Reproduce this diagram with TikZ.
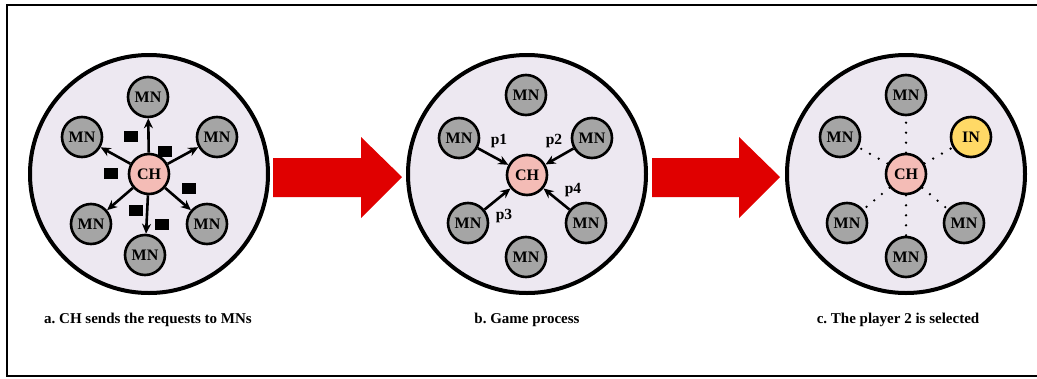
\documentclass[tikz,border=0pt]{standalone}
\usepackage{fontspec}
\setmainfont{Liberation Serif}
\usetikzlibrary{arrows.meta}
\frenchspacing
\definecolor{lav}{HTML}{EDE8F1}
\definecolor{mngray}{HTML}{A5A5A5}
\definecolor{chpink}{HTML}{F4BCB6}
\definecolor{inyellow}{HTML}{FFD966}
\definecolor{bigred}{HTML}{E00000}
\tikzset{
 cluster/.style={circle, draw, line width=4pt, fill=lav, minimum size=238pt, inner sep=0pt},
 mn/.style={circle, draw, line width=2.6pt, fill=mngray, minimum size=40pt, inner sep=0pt, font=\fontsize{16}{16}\selectfont\bfseries},
 ch/.style={mn, fill=chpink},
 innode/.style={mn, fill=inyellow},
 msg/.style={rectangle, fill=black, minimum width=14pt, minimum height=11pt, inner sep=0pt},
 req/.style={line width=2.6pt, -{Stealth[length=10pt,width=9pt]}},
 link/.style={line width=2.6pt, dash pattern=on 0pt off 10pt, line cap=round},
 lbl/.style={font=\fontsize{15.5}{15.5}\selectfont\bfseries, inner sep=0pt},
 caption/.style={font=\fontsize{15}{15}\selectfont\bfseries, inner sep=0pt},
 bigarrow/.style={fill=bigred},
 frame/.style={line width=2pt},
}
\begin{document}
\begin{tikzpicture}[x=1pt,y=-1pt]
\useasboundingbox (0,0) rectangle (1037,378);
% outer frame
\draw[frame] (1040,5) -- (7,5) -- (7,376) -- (1040,376);

% ---------- panel a ----------
\node[cluster] (ca) at (149,174) {};
\node[ch] (chA) at (149,174) {CH};
\node[mn] (a1) at (148,97) {MN};
\node[mn] (a2) at (82,137) {MN};
\node[mn] (a3) at (217,137) {MN};
\node[mn] (a4) at (91,224) {MN};
\node[mn] (a5) at (207,224) {MN};
\node[mn] (a6) at (145,255) {MN};
\foreach \t in {a1,a2,a3,a4,a5,a6} \draw[req] (chA) -- (\t);
\node[msg] (m1) at (131,136) {};
\node[msg] (m2) at (165,151) {};
\node[msg] (m3) at (111,173) {};
\node[msg] (m4) at (189,188) {};
\node[msg] (m5) at (136,210) {};
\node[msg] (m6) at (162,224) {};
\node[caption] (capA) at (148,320) {a. CH sends the requests to MNs};

% big arrow 1
\fill[bigarrow] (273,158) -- (361,158) -- (361,137) -- (402,177) -- (361,218) -- (361,197) -- (273,197) -- cycle;

% ---------- panel b ----------
\node[cluster] (cb) at (527,174) {};
\node[ch] (chB) at (527,175) {CH};
\node[mn] (b1) at (526,95) {MN};
\node[mn] (b2) at (459,138) {MN};
\node[mn] (b3) at (592,138) {MN};
\node[mn] (b4) at (468,223) {MN};
\node[mn] (b5) at (586,223) {MN};
\node[mn] (b6) at (526,257) {MN};
\foreach \s in {b2,b3,b4,b5} \draw[req] (\s) -- (chB);
\node[lbl] (p1) at (499,141) {p1};
\node[lbl] (p2) at (554,141) {p2};
\node[lbl] (p3) at (504,216) {p3};
\node[lbl] (p4) at (573,190) {p4};
\node[caption] (capB) at (527,320) {b. Game process};

% big arrow 2
\fill[bigarrow] (652,158) -- (739,158) -- (739,137) -- (780,177) -- (739,218) -- (739,197) -- (652,197) -- cycle;

% ---------- panel c ----------
\node[cluster] (cc) at (906,174) {};
\node[ch] (chC) at (906,174) {CH};
\node[mn] (c1) at (906,95) {MN};
\node[mn] (c2) at (840,137) {MN};
\node[innode] (c3) at (971,137) {IN};
\node[mn] (c4) at (847,223) {MN};
\node[mn] (c5) at (964,223) {MN};
\node[mn] (c6) at (906,257) {MN};
\foreach \t in {c1,c2,c3,c4,c5,c6} \draw[link] (chC) -- (\t);
\node[caption] (capC) at (898,320) {c. The player 2 is selected};
\end{tikzpicture}
\end{document}
